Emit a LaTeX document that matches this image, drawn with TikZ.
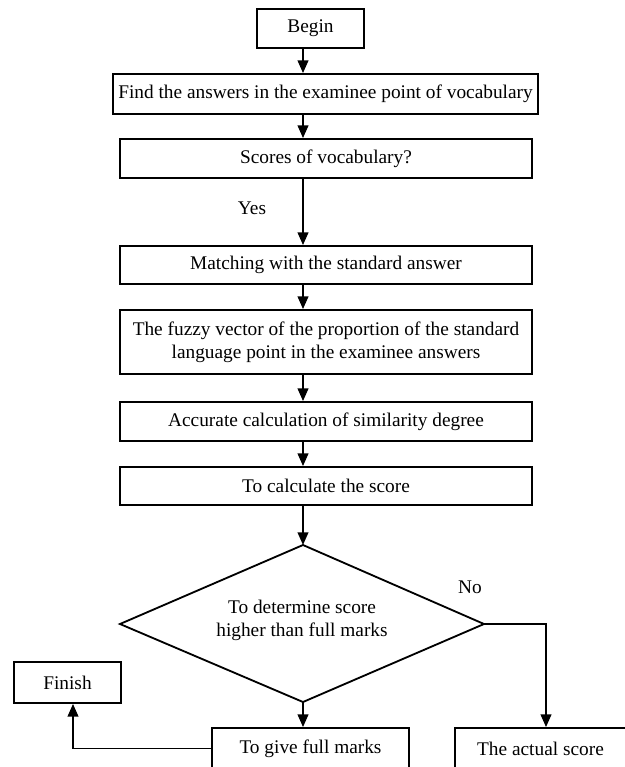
\documentclass[tikz,border=0pt]{standalone}
\usepackage{fontspec}
\setmainfont{Liberation Serif}
\usetikzlibrary{arrows.meta}
\tikzset{
  stepbox/.style={draw, line width=0.055cm, inner sep=0pt, align=center,
    minimum width=12.36cm, minimum height=1.17cm},
  flow/.style={line width=0.055cm, -{Triangle[length=0.38cm,width=0.32cm]}},
}
\begin{document}
\begin{tikzpicture}[x=0.03cm,y=-0.03cm]
                \useasboundingbox (0,0) rectangle (624,767);
                {\fontsize{16.5}{19.5}\selectfont

                % Drawing the boxes of the main column
                \node [stepbox, minimum width=3.21cm] (begin) at (310.5,28.5) {Begin};%
                \node [stepbox, minimum width=12.75cm, minimum height=1.2cm] (find) at (325.5,94) {Find the answers in the examinee point of vocabulary};%
                \node [stepbox] (scores) at (326,158.5) {Scores of vocabulary?};%
                \node [stepbox, minimum height=1.14cm] (match) at (326,265) {Matching with the standard answer};%
                \node [stepbox, minimum height=1.92cm] (fuzzy) at (326,342) {The fuzzy vector of the proportion of the standard\\language point in the examinee answers};%
                \node [stepbox] (accurate) at (326,421.5) {Accurate calculation of similarity degree};%
                \node [stepbox, minimum height=1.14cm] (calc) at (326,486) {To calculate the score};%

                % Drawing the decision
                \coordinate (top) at (303,545);
                \coordinate (bottom) at (303,702);
                \coordinate (left) at (120,624);
                \coordinate (right) at (484,624);
                \draw [line width=0.055cm, line join=miter] (top) -- (right) -- (bottom) -- (left) -- cycle;%
                \node [align=center, inner sep=0pt] (judge) at (302,620) {To determine score\\higher than full marks};%

                % Drawing the boxes of the bottom row
                \node [stepbox, minimum width=5.91cm, minimum height=1.23cm] (full) at (310.5,748.5) {To give full marks};%
                \node [stepbox, minimum width=5.13cm, minimum height=1.23cm] (actual) at (540.5,748.5) {The actual score};%
                \node [stepbox, minimum width=3.21cm, minimum height=1.23cm] (finish) at (67.5,682.5) {Finish};%

                % Drawing the arrows of the main column
                \coordinate (axis) at (303,0);
                \draw [flow] (begin.south -| axis) -- (find.north -| axis);%
                \draw [flow] (find.south -| axis) -- (scores.north -| axis);%
                \draw [flow] (scores.south -| axis) -- (match.north -| axis);%
                \draw (scores.south -| axis) ++(-51,29) node {Yes};%
                \draw [flow] (match.south -| axis) -- (fuzzy.north -| axis);%
                \draw [flow] (fuzzy.south -| axis) -- (accurate.north -| axis);%
                \draw [flow] (accurate.south -| axis) -- (calc.north -| axis);%
                \draw [flow] (calc.south -| top) -- (top);%

                % Drawing the branches
                \draw [flow] (bottom) -- (full.north -| bottom);%
                \draw [flow] (right) -| ([xshift=0.165cm]actual.north);%
                \draw (right) ++(-14,-37) node {No};%
                \draw [flow] (full.west) -| ([xshift=0.165cm]finish.south);%
                }
            \end{tikzpicture}
\end{document}
